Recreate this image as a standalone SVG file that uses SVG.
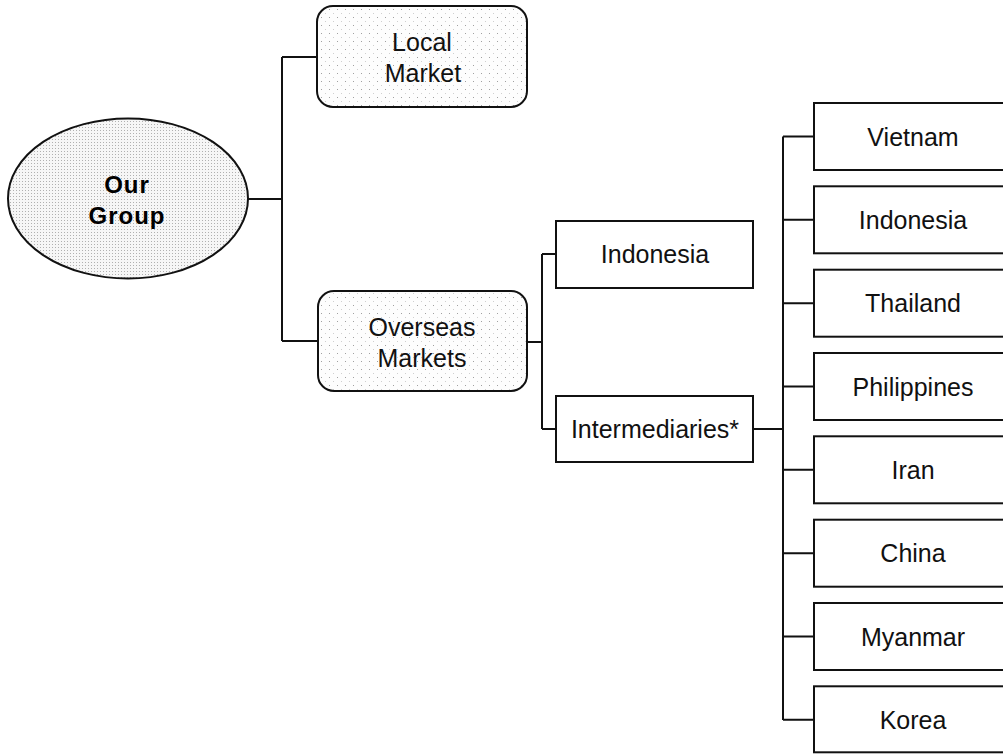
<svg xmlns="http://www.w3.org/2000/svg" width="1003" height="754" viewBox="0 0 1003 754">
  <style>
    .box { fill: #ffffff; stroke: #111; stroke-width: 2; }
    .soft { fill: url(#stipple); stroke: #111; stroke-width: 2; }
    .dense { fill: url(#stippleDense); stroke: #111; stroke-width: 2; }
    .lbl { font-family: "Liberation Sans", Arial, Helvetica, sans-serif; font-size: 25px; fill: #111; text-anchor: middle; }
    .bold { font-family: "Liberation Sans", Arial, Helvetica, sans-serif; font-size: 24px; font-weight: bold; fill: #000; text-anchor: middle; letter-spacing: 1px; }
    .wire { fill: none; stroke: #111; stroke-width: 2; }
  </style>
  <defs>
    <!-- light dotted halftone fill -->
    <pattern id="stipple" width="8" height="8" patternUnits="userSpaceOnUse">
      <rect width="8" height="8" fill="#fdfdfd"/>
      <rect x="1" y="1" width="1" height="1" fill="#a0a0a0"/>
      <rect x="5" y="5" width="1" height="1" fill="#cfcfcf"/>
    </pattern>
    <pattern id="stippleDense" width="3" height="3" patternUnits="userSpaceOnUse">
      <rect width="3" height="3" fill="#f6f6f6"/>
      <rect x="1" y="1" width="1" height="1" fill="#b0b0b0"/>
    </pattern>
  </defs>

  <!-- connectors -->
  <g id="connectors">
    <path class="wire" d="M247 199 H282 M282 57 V341 M282 57 H317 M282 341 H318"/>
    <path class="wire" d="M527 342 H542 M542 254 V429 M542 254 H556 M542 429 H556"/>
    <path class="wire" d="M753 429 H783 M783 136.5 V720"/>
    <path class="wire" d="M783 136.5 H814 M783 219.8 H814 M783 303.2 H814 M783 386.5 H814 M783 469.8 H814 M783 553.2 H814 M783 636.5 H814 M783 719.8 H814"/>
  </g>

  <g id="our-group">
    <ellipse class="dense" cx="128" cy="198.5" rx="120" ry="80"/>
    <text class="bold" x="127" y="193">Our</text>
    <text class="bold" x="127" y="224">Group</text>
  </g>

  <g id="local-market">
    <rect class="soft" x="317" y="6" width="210" height="101" rx="16"/>
    <text class="lbl" x="422" y="51">Local</text>
    <text class="lbl" x="423" y="82">Market</text>
  </g>

  <g id="overseas-markets">
    <rect class="soft" x="318" y="291" width="209" height="100" rx="16"/>
    <text class="lbl" x="422" y="336">Overseas</text>
    <text class="lbl" x="422" y="367">Markets</text>
  </g>

  <g id="indonesia-direct">
    <rect class="box" x="556" y="221" width="197" height="67"/>
    <text class="lbl" x="655" y="263">Indonesia</text>
  </g>

  <g id="intermediaries">
    <rect class="box" x="556" y="396" width="197" height="66"/>
    <text class="lbl" x="655" y="438">Intermediaries*</text>
  </g>

  <g id="vietnam">
    <rect class="box" x="814" y="103" width="200" height="67"/>
    <text class="lbl" x="913" y="145.5">Vietnam</text>
  </g>
  <g id="indonesia">
    <rect class="box" x="814" y="186.3" width="200" height="67"/>
    <text class="lbl" x="913" y="228.8">Indonesia</text>
  </g>
  <g id="thailand">
    <rect class="box" x="814" y="269.7" width="200" height="67"/>
    <text class="lbl" x="913" y="312.2">Thailand</text>
  </g>
  <g id="philippines">
    <rect class="box" x="814" y="353" width="200" height="67"/>
    <text class="lbl" x="913" y="395.5">Philippines</text>
  </g>
  <g id="iran">
    <rect class="box" x="814" y="436.3" width="200" height="67"/>
    <text class="lbl" x="913" y="478.8">Iran</text>
  </g>
  <g id="china">
    <rect class="box" x="814" y="519.7" width="200" height="67"/>
    <text class="lbl" x="913" y="562.2">China</text>
  </g>
  <g id="myanmar">
    <rect class="box" x="814" y="603" width="200" height="67"/>
    <text class="lbl" x="913" y="645.5">Myanmar</text>
  </g>
  <g id="korea">
    <rect class="box" x="814" y="686.3" width="200" height="66"/>
    <text class="lbl" x="913" y="728.8">Korea</text>
  </g>
</svg>
